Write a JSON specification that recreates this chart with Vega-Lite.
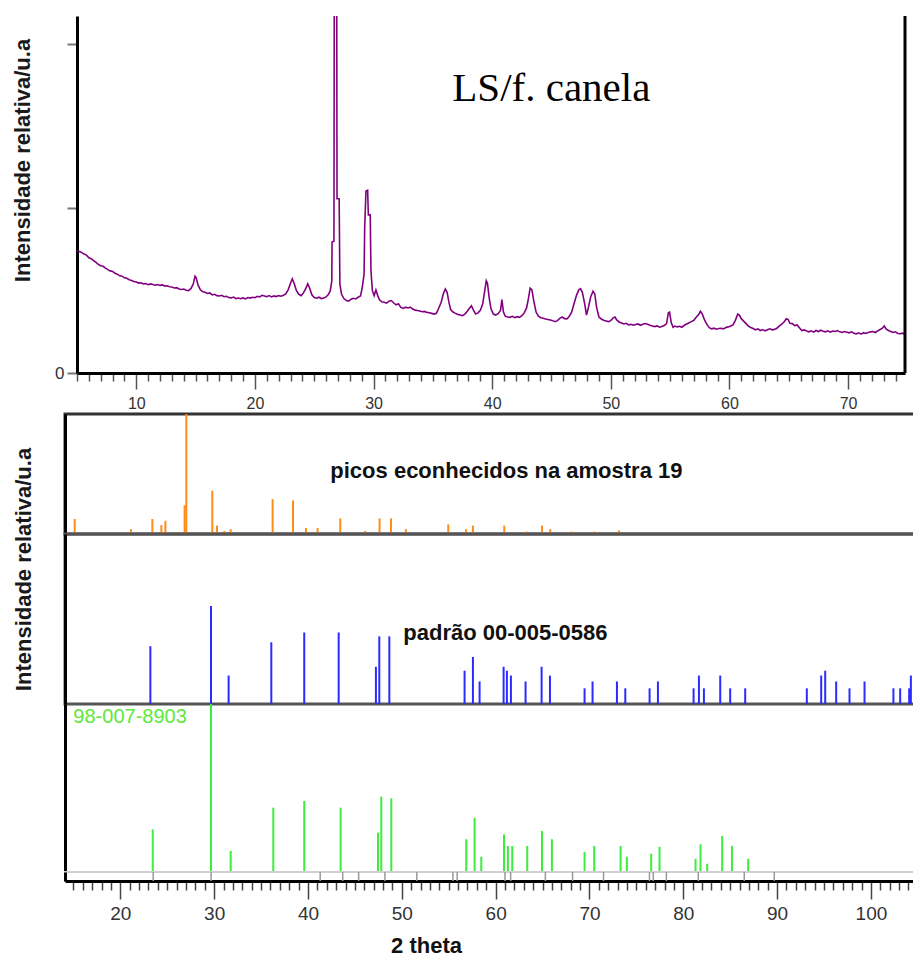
{
  "$schema": "https://vega.github.io/schema/vega-lite/v6.json",
  "background": "white",
  "padding": {"left": 10, "top": 14, "right": 0, "bottom": 0},
  "config": {"font": "Liberation Sans", "axis": {"grid": false}},
  "datasets": {
    "scan": [
      {"t": 5.03, "i": 745}, {"t": 5.2, "i": 738}, {"t": 5.4, "i": 731}, {"t": 5.6, "i": 722}, {"t": 5.8, "i": 716},
      {"t": 6.0, "i": 700}, {"t": 6.2, "i": 694}, {"t": 6.4, "i": 683}, {"t": 6.6, "i": 672}, {"t": 6.8, "i": 660},
      {"t": 7.0, "i": 651}, {"t": 7.2, "i": 648}, {"t": 7.4, "i": 637}, {"t": 7.6, "i": 628}, {"t": 7.8, "i": 620},
      {"t": 8.0, "i": 617}, {"t": 8.2, "i": 606}, {"t": 8.4, "i": 600}, {"t": 8.6, "i": 590}, {"t": 8.8, "i": 588},
      {"t": 9.0, "i": 578}, {"t": 9.2, "i": 575}, {"t": 9.4, "i": 566}, {"t": 9.6, "i": 562}, {"t": 9.8, "i": 556},
      {"t": 10.0, "i": 553}, {"t": 10.2, "i": 546}, {"t": 10.4, "i": 548}, {"t": 10.6, "i": 541}, {"t": 10.8, "i": 543},
      {"t": 11.0, "i": 536}, {"t": 11.2, "i": 541}, {"t": 11.4, "i": 538}, {"t": 11.6, "i": 533}, {"t": 11.8, "i": 537},
      {"t": 12.0, "i": 532}, {"t": 12.2, "i": 535}, {"t": 12.4, "i": 528}, {"t": 12.6, "i": 530}, {"t": 12.8, "i": 524},
      {"t": 13.0, "i": 522}, {"t": 13.2, "i": 516}, {"t": 13.4, "i": 518}, {"t": 13.6, "i": 510}, {"t": 13.8, "i": 507},
      {"t": 14.0, "i": 510}, {"t": 14.2, "i": 503}, {"t": 14.4, "i": 500}, {"t": 14.6, "i": 512}, {"t": 14.8, "i": 540},
      {"t": 14.95, "i": 588}, {"t": 15.05, "i": 578}, {"t": 15.2, "i": 535}, {"t": 15.4, "i": 505}, {"t": 15.6, "i": 494},
      {"t": 15.8, "i": 490}, {"t": 16.0, "i": 483}, {"t": 16.2, "i": 486}, {"t": 16.4, "i": 474}, {"t": 16.6, "i": 478},
      {"t": 16.8, "i": 470}, {"t": 17.0, "i": 468}, {"t": 17.2, "i": 472}, {"t": 17.4, "i": 463}, {"t": 17.6, "i": 466},
      {"t": 17.8, "i": 458}, {"t": 18.0, "i": 456}, {"t": 18.2, "i": 461}, {"t": 18.4, "i": 452}, {"t": 18.6, "i": 455},
      {"t": 18.8, "i": 451}, {"t": 19.0, "i": 456}, {"t": 19.2, "i": 450}, {"t": 19.4, "i": 458}, {"t": 19.6, "i": 455},
      {"t": 19.8, "i": 460}, {"t": 20.0, "i": 457}, {"t": 20.2, "i": 466}, {"t": 20.4, "i": 462}, {"t": 20.6, "i": 472},
      {"t": 20.8, "i": 468}, {"t": 21.0, "i": 463}, {"t": 21.2, "i": 470}, {"t": 21.4, "i": 462}, {"t": 21.6, "i": 468},
      {"t": 21.8, "i": 464}, {"t": 22.0, "i": 470}, {"t": 22.2, "i": 466}, {"t": 22.4, "i": 472}, {"t": 22.6, "i": 480},
      {"t": 22.8, "i": 505}, {"t": 23.0, "i": 545}, {"t": 23.15, "i": 572}, {"t": 23.3, "i": 545}, {"t": 23.5, "i": 500},
      {"t": 23.7, "i": 478}, {"t": 23.9, "i": 470}, {"t": 24.1, "i": 488}, {"t": 24.3, "i": 515}, {"t": 24.45, "i": 542},
      {"t": 24.6, "i": 518}, {"t": 24.8, "i": 475}, {"t": 25.0, "i": 458}, {"t": 25.2, "i": 454}, {"t": 25.4, "i": 460},
      {"t": 25.6, "i": 452}, {"t": 25.8, "i": 456}, {"t": 26.0, "i": 462}, {"t": 26.2, "i": 478}, {"t": 26.35, "i": 500},
      {"t": 26.48, "i": 560}, {"t": 26.5, "i": 795}, {"t": 26.66, "i": 800}, {"t": 26.7, "i": 3000}, {"t": 26.88, "i": 3000},
      {"t": 26.92, "i": 1058}, {"t": 27.1, "i": 1058}, {"t": 27.16, "i": 540}, {"t": 27.3, "i": 478}, {"t": 27.5, "i": 452},
      {"t": 27.7, "i": 440}, {"t": 27.9, "i": 436}, {"t": 28.1, "i": 448}, {"t": 28.3, "i": 454}, {"t": 28.5, "i": 450},
      {"t": 28.7, "i": 460}, {"t": 28.9, "i": 468}, {"t": 29.05, "i": 520}, {"t": 29.2, "i": 600}, {"t": 29.25, "i": 880},
      {"t": 29.36, "i": 1105}, {"t": 29.5, "i": 1110}, {"t": 29.56, "i": 960}, {"t": 29.72, "i": 960}, {"t": 29.78, "i": 620},
      {"t": 29.9, "i": 500}, {"t": 30.05, "i": 470}, {"t": 30.2, "i": 505}, {"t": 30.35, "i": 470}, {"t": 30.5, "i": 445},
      {"t": 30.7, "i": 432}, {"t": 30.9, "i": 430}, {"t": 31.1, "i": 424}, {"t": 31.3, "i": 436}, {"t": 31.5, "i": 440},
      {"t": 31.7, "i": 425}, {"t": 31.9, "i": 414}, {"t": 32.1, "i": 420}, {"t": 32.3, "i": 398}, {"t": 32.5, "i": 392},
      {"t": 32.7, "i": 400}, {"t": 32.9, "i": 395}, {"t": 33.1, "i": 400}, {"t": 33.3, "i": 388}, {"t": 33.5, "i": 382},
      {"t": 33.7, "i": 380}, {"t": 33.9, "i": 376}, {"t": 34.1, "i": 372}, {"t": 34.3, "i": 374}, {"t": 34.5, "i": 368},
      {"t": 34.7, "i": 366}, {"t": 34.9, "i": 362}, {"t": 35.1, "i": 358}, {"t": 35.3, "i": 362}, {"t": 35.5, "i": 395},
      {"t": 35.7, "i": 430}, {"t": 35.9, "i": 485}, {"t": 36.05, "i": 510}, {"t": 36.2, "i": 490}, {"t": 36.35, "i": 430},
      {"t": 36.5, "i": 385}, {"t": 36.7, "i": 370}, {"t": 36.9, "i": 362}, {"t": 37.1, "i": 356}, {"t": 37.3, "i": 352},
      {"t": 37.5, "i": 348}, {"t": 37.7, "i": 358}, {"t": 37.9, "i": 375}, {"t": 38.1, "i": 395}, {"t": 38.25, "i": 408},
      {"t": 38.4, "i": 385}, {"t": 38.6, "i": 358}, {"t": 38.8, "i": 365}, {"t": 39.0, "i": 380}, {"t": 39.2, "i": 420},
      {"t": 39.35, "i": 490}, {"t": 39.5, "i": 560}, {"t": 39.6, "i": 545}, {"t": 39.75, "i": 455}, {"t": 39.9, "i": 390},
      {"t": 40.1, "i": 358}, {"t": 40.3, "i": 352}, {"t": 40.5, "i": 360}, {"t": 40.7, "i": 380}, {"t": 40.82, "i": 445},
      {"t": 40.95, "i": 370}, {"t": 41.1, "i": 345}, {"t": 41.3, "i": 340}, {"t": 41.5, "i": 338}, {"t": 41.7, "i": 344},
      {"t": 41.9, "i": 336}, {"t": 42.1, "i": 342}, {"t": 42.3, "i": 338}, {"t": 42.5, "i": 348}, {"t": 42.7, "i": 365},
      {"t": 42.9, "i": 395}, {"t": 43.05, "i": 450}, {"t": 43.2, "i": 515}, {"t": 43.35, "i": 505}, {"t": 43.5, "i": 440},
      {"t": 43.7, "i": 370}, {"t": 43.9, "i": 345}, {"t": 44.1, "i": 336}, {"t": 44.3, "i": 332}, {"t": 44.5, "i": 328},
      {"t": 44.7, "i": 325}, {"t": 44.9, "i": 322}, {"t": 45.1, "i": 318}, {"t": 45.3, "i": 312}, {"t": 45.5, "i": 318},
      {"t": 45.7, "i": 332}, {"t": 45.9, "i": 340}, {"t": 46.1, "i": 330}, {"t": 46.3, "i": 328}, {"t": 46.5, "i": 345},
      {"t": 46.7, "i": 370}, {"t": 46.9, "i": 420}, {"t": 47.1, "i": 470}, {"t": 47.3, "i": 505}, {"t": 47.45, "i": 512},
      {"t": 47.6, "i": 490}, {"t": 47.8, "i": 420}, {"t": 47.95, "i": 352}, {"t": 48.1, "i": 395}, {"t": 48.3, "i": 462},
      {"t": 48.5, "i": 497}, {"t": 48.65, "i": 480}, {"t": 48.8, "i": 400}, {"t": 49.0, "i": 340}, {"t": 49.2, "i": 328},
      {"t": 49.4, "i": 320}, {"t": 49.6, "i": 316}, {"t": 49.8, "i": 312}, {"t": 50.0, "i": 318}, {"t": 50.2, "i": 335},
      {"t": 50.35, "i": 340}, {"t": 50.5, "i": 322}, {"t": 50.7, "i": 310}, {"t": 50.9, "i": 304}, {"t": 51.1, "i": 298},
      {"t": 51.3, "i": 302}, {"t": 51.5, "i": 292}, {"t": 51.7, "i": 296}, {"t": 51.9, "i": 290}, {"t": 52.1, "i": 294},
      {"t": 52.3, "i": 298}, {"t": 52.5, "i": 290}, {"t": 52.7, "i": 296}, {"t": 52.9, "i": 300}, {"t": 53.1, "i": 296},
      {"t": 53.3, "i": 290}, {"t": 53.5, "i": 286}, {"t": 53.7, "i": 282}, {"t": 53.9, "i": 286}, {"t": 54.1, "i": 278},
      {"t": 54.3, "i": 282}, {"t": 54.5, "i": 288}, {"t": 54.7, "i": 300}, {"t": 54.85, "i": 365}, {"t": 54.95, "i": 370},
      {"t": 55.1, "i": 305}, {"t": 55.25, "i": 278}, {"t": 55.4, "i": 285}, {"t": 55.6, "i": 280}, {"t": 55.8, "i": 284},
      {"t": 56.0, "i": 278}, {"t": 56.2, "i": 290}, {"t": 56.4, "i": 298}, {"t": 56.6, "i": 305}, {"t": 56.8, "i": 312},
      {"t": 57.0, "i": 320}, {"t": 57.2, "i": 338}, {"t": 57.4, "i": 355}, {"t": 57.55, "i": 375}, {"t": 57.7, "i": 360},
      {"t": 57.9, "i": 322}, {"t": 58.1, "i": 295}, {"t": 58.3, "i": 275}, {"t": 58.5, "i": 268}, {"t": 58.7, "i": 272},
      {"t": 58.9, "i": 266}, {"t": 59.1, "i": 270}, {"t": 59.3, "i": 272}, {"t": 59.5, "i": 268}, {"t": 59.7, "i": 276},
      {"t": 59.9, "i": 280}, {"t": 60.1, "i": 285}, {"t": 60.3, "i": 292}, {"t": 60.5, "i": 320}, {"t": 60.7, "i": 358},
      {"t": 60.85, "i": 350}, {"t": 61.0, "i": 330}, {"t": 61.2, "i": 315}, {"t": 61.4, "i": 300}, {"t": 61.6, "i": 285},
      {"t": 61.8, "i": 276}, {"t": 62.0, "i": 270}, {"t": 62.2, "i": 262}, {"t": 62.4, "i": 268}, {"t": 62.6, "i": 258},
      {"t": 62.8, "i": 264}, {"t": 63.0, "i": 256}, {"t": 63.2, "i": 262}, {"t": 63.4, "i": 268}, {"t": 63.6, "i": 262},
      {"t": 63.8, "i": 265}, {"t": 64.0, "i": 272}, {"t": 64.2, "i": 285}, {"t": 64.4, "i": 296}, {"t": 64.6, "i": 310},
      {"t": 64.8, "i": 330}, {"t": 64.95, "i": 325}, {"t": 65.1, "i": 302}, {"t": 65.3, "i": 300}, {"t": 65.5, "i": 288},
      {"t": 65.7, "i": 292}, {"t": 65.9, "i": 275}, {"t": 66.1, "i": 258}, {"t": 66.3, "i": 262}, {"t": 66.5, "i": 255},
      {"t": 66.7, "i": 250}, {"t": 66.9, "i": 256}, {"t": 67.1, "i": 248}, {"t": 67.3, "i": 258}, {"t": 67.5, "i": 252},
      {"t": 67.7, "i": 260}, {"t": 67.9, "i": 254}, {"t": 68.1, "i": 250}, {"t": 68.3, "i": 256}, {"t": 68.5, "i": 248},
      {"t": 68.7, "i": 255}, {"t": 68.9, "i": 252}, {"t": 69.1, "i": 258}, {"t": 69.3, "i": 250}, {"t": 69.5, "i": 246},
      {"t": 69.7, "i": 252}, {"t": 69.9, "i": 248}, {"t": 70.1, "i": 244}, {"t": 70.3, "i": 250}, {"t": 70.5, "i": 242},
      {"t": 70.7, "i": 238}, {"t": 70.9, "i": 244}, {"t": 71.1, "i": 236}, {"t": 71.3, "i": 245}, {"t": 71.5, "i": 240},
      {"t": 71.7, "i": 246}, {"t": 71.9, "i": 250}, {"t": 72.1, "i": 252}, {"t": 72.3, "i": 246}, {"t": 72.5, "i": 256},
      {"t": 72.7, "i": 264}, {"t": 72.9, "i": 272}, {"t": 73.05, "i": 286}, {"t": 73.2, "i": 268}, {"t": 73.4, "i": 258},
      {"t": 73.6, "i": 252}, {"t": 73.8, "i": 246}, {"t": 74.0, "i": 250}, {"t": 74.2, "i": 240}, {"t": 74.4, "i": 238},
      {"t": 74.6, "i": 242}, {"t": 74.8, "i": 236}
    ],
    "sticks": [
      {"fase": "amostra", "t": 15.13, "h": 12.5}, {"fase": "amostra", "t": 21.14, "h": 4}, {"fase": "amostra", "t": 23.41, "h": 12.5},
      {"fase": "amostra", "t": 24.37, "h": 7.5}, {"fase": "amostra", "t": 24.8, "h": 11}, {"fase": "amostra", "t": 26.85, "h": 24},
      {"fase": "amostra", "t": 27.03, "h": 100}, {"fase": "amostra", "t": 29.8, "h": 36}, {"fase": "amostra", "t": 30.3, "h": 7},
      {"fase": "amostra", "t": 31.08, "h": 2.5}, {"fase": "amostra", "t": 31.76, "h": 4}, {"fase": "amostra", "t": 36.23, "h": 29},
      {"fase": "amostra", "t": 38.4, "h": 28}, {"fase": "amostra", "t": 39.79, "h": 5}, {"fase": "amostra", "t": 41.02, "h": 5},
      {"fase": "amostra", "t": 43.44, "h": 13}, {"fase": "amostra", "t": 46.1, "h": 2.5}, {"fase": "amostra", "t": 47.63, "h": 13},
      {"fase": "amostra", "t": 48.85, "h": 13}, {"fase": "amostra", "t": 50.44, "h": 4}, {"fase": "amostra", "t": 54.95, "h": 8},
      {"fase": "amostra", "t": 56.84, "h": 4}, {"fase": "amostra", "t": 57.58, "h": 7}, {"fase": "amostra", "t": 60.92, "h": 7},
      {"fase": "amostra", "t": 63.34, "h": 2}, {"fase": "amostra", "t": 64.94, "h": 7}, {"fase": "amostra", "t": 65.82, "h": 4},
      {"fase": "amostra", "t": 68.06, "h": 2}, {"fase": "amostra", "t": 70.51, "h": 2}, {"fase": "amostra", "t": 73.14, "h": 3},

      {"fase": "padrao", "t": 23.2, "h": 59}, {"fase": "padrao", "t": 29.66, "h": 100}, {"fase": "padrao", "t": 31.54, "h": 29},
      {"fase": "padrao", "t": 36.09, "h": 63}, {"fase": "padrao", "t": 39.6, "h": 73}, {"fase": "padrao", "t": 43.27, "h": 73},
      {"fase": "padrao", "t": 47.24, "h": 38}, {"fase": "padrao", "t": 47.6, "h": 69}, {"fase": "padrao", "t": 48.67, "h": 69},
      {"fase": "padrao", "t": 56.69, "h": 34}, {"fase": "padrao", "t": 57.58, "h": 48}, {"fase": "padrao", "t": 58.29, "h": 23},
      {"fase": "padrao", "t": 60.85, "h": 38}, {"fase": "padrao", "t": 61.2, "h": 34}, {"fase": "padrao", "t": 61.63, "h": 29},
      {"fase": "padrao", "t": 63.19, "h": 23}, {"fase": "padrao", "t": 64.9, "h": 38}, {"fase": "padrao", "t": 65.79, "h": 29},
      {"fase": "padrao", "t": 69.48, "h": 16}, {"fase": "padrao", "t": 70.33, "h": 23}, {"fase": "padrao", "t": 72.93, "h": 23},
      {"fase": "padrao", "t": 73.82, "h": 16}, {"fase": "padrao", "t": 76.41, "h": 16}, {"fase": "padrao", "t": 77.3, "h": 23},
      {"fase": "padrao", "t": 81.1, "h": 16}, {"fase": "padrao", "t": 81.67, "h": 29}, {"fase": "padrao", "t": 82.2, "h": 16},
      {"fase": "padrao", "t": 83.94, "h": 29}, {"fase": "padrao", "t": 85.0, "h": 16}, {"fase": "padrao", "t": 86.6, "h": 16},
      {"fase": "padrao", "t": 93.17, "h": 16}, {"fase": "padrao", "t": 94.7, "h": 29}, {"fase": "padrao", "t": 95.13, "h": 34},
      {"fase": "padrao", "t": 96.3, "h": 23}, {"fase": "padrao", "t": 97.72, "h": 16}, {"fase": "padrao", "t": 99.32, "h": 23},
      {"fase": "padrao", "t": 102.4, "h": 16}, {"fase": "padrao", "t": 103.12, "h": 16}, {"fase": "padrao", "t": 104.08, "h": 16},
      {"fase": "padrao", "t": 104.26, "h": 29},

      {"fase": "ref", "t": 23.45, "h": 25.4}, {"fase": "ref", "t": 29.66, "h": 100}, {"fase": "ref", "t": 31.76, "h": 12.5},
      {"fase": "ref", "t": 36.3, "h": 38.3}, {"fase": "ref", "t": 39.6, "h": 42.3}, {"fase": "ref", "t": 43.48, "h": 38.3},
      {"fase": "ref", "t": 47.46, "h": 23.4}, {"fase": "ref", "t": 47.81, "h": 44.8}, {"fase": "ref", "t": 48.88, "h": 43.9},
      {"fase": "ref", "t": 56.87, "h": 19.5}, {"fase": "ref", "t": 57.76, "h": 32.3}, {"fase": "ref", "t": 58.47, "h": 9.1},
      {"fase": "ref", "t": 60.89, "h": 22.4}, {"fase": "ref", "t": 61.31, "h": 15.5}, {"fase": "ref", "t": 61.77, "h": 15.5},
      {"fase": "ref", "t": 63.37, "h": 15.5}, {"fase": "ref", "t": 64.94, "h": 24.4}, {"fase": "ref", "t": 66.0, "h": 19.5},
      {"fase": "ref", "t": 69.48, "h": 11.9}, {"fase": "ref", "t": 70.51, "h": 15.5}, {"fase": "ref", "t": 73.32, "h": 15.5},
      {"fase": "ref", "t": 73.99, "h": 9.1}, {"fase": "ref", "t": 76.58, "h": 10.9}, {"fase": "ref", "t": 77.47, "h": 14.9},
      {"fase": "ref", "t": 81.31, "h": 7.9}, {"fase": "ref", "t": 81.84, "h": 16.5}, {"fase": "ref", "t": 82.55, "h": 4.9},
      {"fase": "ref", "t": 84.15, "h": 21.4}, {"fase": "ref", "t": 85.19, "h": 15.5}, {"fase": "ref", "t": 86.92, "h": 7.9},

      {"fase": "marcador", "t": 23.5, "h": 1}, {"fase": "marcador", "t": 29.67, "h": 1}, {"fase": "marcador", "t": 41.3, "h": 1},
      {"fase": "marcador", "t": 43.7, "h": 1}, {"fase": "marcador", "t": 45.4, "h": 1}, {"fase": "marcador", "t": 48.2, "h": 1},
      {"fase": "marcador", "t": 51.6, "h": 1}, {"fase": "marcador", "t": 55.45, "h": 1}, {"fase": "marcador", "t": 55.9, "h": 1},
      {"fase": "marcador", "t": 61.0, "h": 1}, {"fase": "marcador", "t": 61.6, "h": 1}, {"fase": "marcador", "t": 65.3, "h": 1},
      {"fase": "marcador", "t": 68.2, "h": 1}, {"fase": "marcador", "t": 71.5, "h": 1}, {"fase": "marcador", "t": 76.4, "h": 1},
      {"fase": "marcador", "t": 76.8, "h": 1}, {"fase": "marcador", "t": 78.2, "h": 1}, {"fase": "marcador", "t": 81.6, "h": 1},
      {"fase": "marcador", "t": 86.5, "h": 1}, {"fase": "marcador", "t": 89.7, "h": 1}
    ]
  },
  "concat": [
    {
      "width": 840,
      "height": 357,
      "view": {"stroke": null},
      "layer": [
        {
          "data": {"name": "scan"},
          "mark": {"type": "line", "color": "#800080", "strokeWidth": 1.6, "clip": true},
          "encoding": {
            "x": {
              "field": "t", "type": "quantitative",
              "scale": {"domain": [5, 74.8], "range": [12, 840], "nice": false, "zero": false},
              "axis": {
                "title": null, "tickCount": 70,
                "labelExpr": "datum.value % 10 === 0 ? datum.label : ''",
                "labelOverlap": false, "labelFlush": false,
                "domainColor": "black", "domainWidth": 3,
                "tickColor": "#555", "tickWidth": 1.5,
                "tickSize": {"condition": {"test": "datum.value % 10 === 0", "value": 16}, "value": 8},
                "labelFontSize": 16, "labelColor": "#333", "labelPadding": 6
              }
            },
            "y": {
              "field": "i", "type": "quantitative",
              "scale": {"domain": [0, 2168], "nice": false},
              "axis": {
                "values": [0, 1000, 2000],
                "labelExpr": "datum.value === 0 ? '0' : ''",
                "offset": -12,
                "title": "Intensidade relativa/u.a",
                "titleFontSize": 22, "titleFontWeight": "bold", "titleColor": "#1a1a1a",
                "titleY": 144, "titlePadding": 20,
                "domainColor": "black", "domainWidth": 3,
                "tickColor": "#777", "tickSize": 10, "tickWidth": 2,
                "labelFontSize": 17, "labelColor": "#333", "labelPadding": 3
              }
            }
          }
        },
        {
          "data": {"values": [{}]},
          "mark": {"type": "rule", "color": "black", "strokeWidth": 3},
          "encoding": {"x": {"datum": 74.8}}
        },
        {
          "data": {"values": [{"rotulo": "LS/f. canela"}]},
          "mark": {"type": "text", "font": "Liberation Serif", "fontSize": 41, "align": "left", "baseline": "alphabetic", "color": "black"},
          "encoding": {"x": {"datum": 36.64}, "y": {"datum": 1652}, "text": {"field": "rotulo"}}
        }
      ]
    },
    {
      "vconcat": [
        {
          "width": 850,
          "height": 120,
          "view": {"stroke": "#333", "strokeWidth": 3},
          "layer": [
            {
              "data": {"name": "sticks"},
              "transform": [{"filter": "datum.fase === 'amostra'"}],
              "mark": {"type": "rule", "color": "#ff8c1a", "strokeWidth": 2},
              "encoding": {
                "x": {"field": "t", "type": "quantitative", "scale": {"domain": [14.1, 104.7], "nice": false, "zero": false}, "axis": null},
                "y": {
                  "field": "h", "type": "quantitative",
                  "scale": {"domain": [0, 100], "nice": false},
                  "axis": {
                    "title": "Intensidade relativa/u.a", "titleFontSize": 22, "titleFontWeight": "bold", "titleColor": "#1a1a1a",
                    "titleY": 155, "titlePadding": 30,
                    "labels": false, "ticks": false, "domainColor": "black", "domainWidth": 3
                  }
                },
                "y2": {"datum": 0}
              }
            },
            {
              "data": {"values": [{"rotulo": "picos econhecidos na amostra 19"}]},
              "mark": {"type": "text", "fontSize": 22, "fontWeight": "bold", "align": "left", "baseline": "middle", "color": "#111"},
              "encoding": {"x": {"datum": 42.38}, "y": {"datum": 52.5}, "text": {"field": "rotulo"}}
            }
          ]
        },
        {
          "width": 850,
          "height": 170,
          "view": {"stroke": "#555", "strokeWidth": 3},
          "layer": [
            {
              "data": {"name": "sticks"},
              "transform": [{"filter": "datum.fase === 'padrao'"}],
              "mark": {"type": "rule", "color": "#2b2bff", "strokeWidth": 2},
              "encoding": {
                "x": {"field": "t", "type": "quantitative", "scale": {"domain": [14.1, 104.7], "nice": false, "zero": false}, "axis": null},
                "y": {
                  "field": "h", "type": "quantitative",
                  "scale": {"domain": [0, 173.5], "nice": false},
                  "axis": {"title": null, "labels": false, "ticks": false, "domainColor": "black", "domainWidth": 3}
                },
                "y2": {"datum": 0}
              }
            },
            {
              "data": {"values": [{"rotulo": "padrão 00-005-0586"}]},
              "mark": {"type": "text", "fontSize": 22, "fontWeight": "bold", "align": "left", "baseline": "middle", "color": "#111"},
              "encoding": {"x": {"datum": 50.16}, "y": {"datum": 72.4}, "text": {"field": "rotulo"}}
            }
          ]
        },
        {
          "width": 850,
          "height": 168,
          "view": {"stroke": null},
          "layer": [
            {
              "data": {"name": "sticks"},
              "transform": [{"filter": "datum.fase === 'ref'"}],
              "mark": {"type": "rule", "color": "#3ded3d", "strokeWidth": 2},
              "encoding": {
                "x": {"field": "t", "type": "quantitative", "scale": {"domain": [14.1, 104.7], "nice": false, "zero": false}, "axis": null},
                "y": {
                  "field": "h", "type": "quantitative",
                  "scale": {"domain": [0, 100], "nice": false},
                  "axis": {"title": null, "labels": false, "ticks": false, "domainColor": "black", "domainWidth": 3}
                },
                "y2": {"datum": 0}
              }
            },
            {
              "data": {"values": [{"rotulo": "98-007-8903"}]},
              "mark": {"type": "text", "fontSize": 20, "align": "left", "baseline": "middle", "color": "#5ee83a"},
              "encoding": {"x": {"datum": 14.99}, "y": {"datum": 92.3}, "text": {"field": "rotulo"}}
            }
          ]
        },
        {
          "width": 850,
          "height": 9,
          "view": {"stroke": "#d0d0d0", "strokeWidth": 2},
          "data": {"name": "sticks"},
          "transform": [{"filter": "datum.fase === 'marcador'"}],
          "mark": {"type": "rule", "color": "#999", "strokeWidth": 1.5},
          "encoding": {
            "x": {
              "field": "t", "type": "quantitative",
              "scale": {"domain": [14.1, 104.7], "nice": false, "zero": false},
              "axis": {
                "title": "2 theta", "titleFontSize": 22, "titleFontWeight": "bold", "titleColor": "#111",
                "titleX": 361, "titlePadding": 12,
                "tickCount": 90,
                "labelExpr": "datum.value % 10 === 0 ? datum.label : ''",
                "labelOverlap": false, "labelFlush": false,
                "domainColor": "black", "domainWidth": 3,
                "tickColor": "#444", "tickWidth": 1.5,
                "tickSize": {"condition": {"test": "datum.value % 10 === 0", "value": 18}, "value": 9},
                "labelFontSize": 19, "labelColor": "#333", "labelPadding": 5
              }
            },
            "y": {
              "field": "h", "type": "quantitative",
              "scale": {"domain": [0, 1], "nice": false},
              "axis": {"title": null, "labels": false, "ticks": false, "domainColor": "black", "domainWidth": 3}
            },
            "y2": {"datum": 0}
          }
        }
      ],
      "spacing": 0,
      "bounds": "flush"
    }
  ],
  "columns": 1,
  "align": "none",
  "spacing": 0
}
